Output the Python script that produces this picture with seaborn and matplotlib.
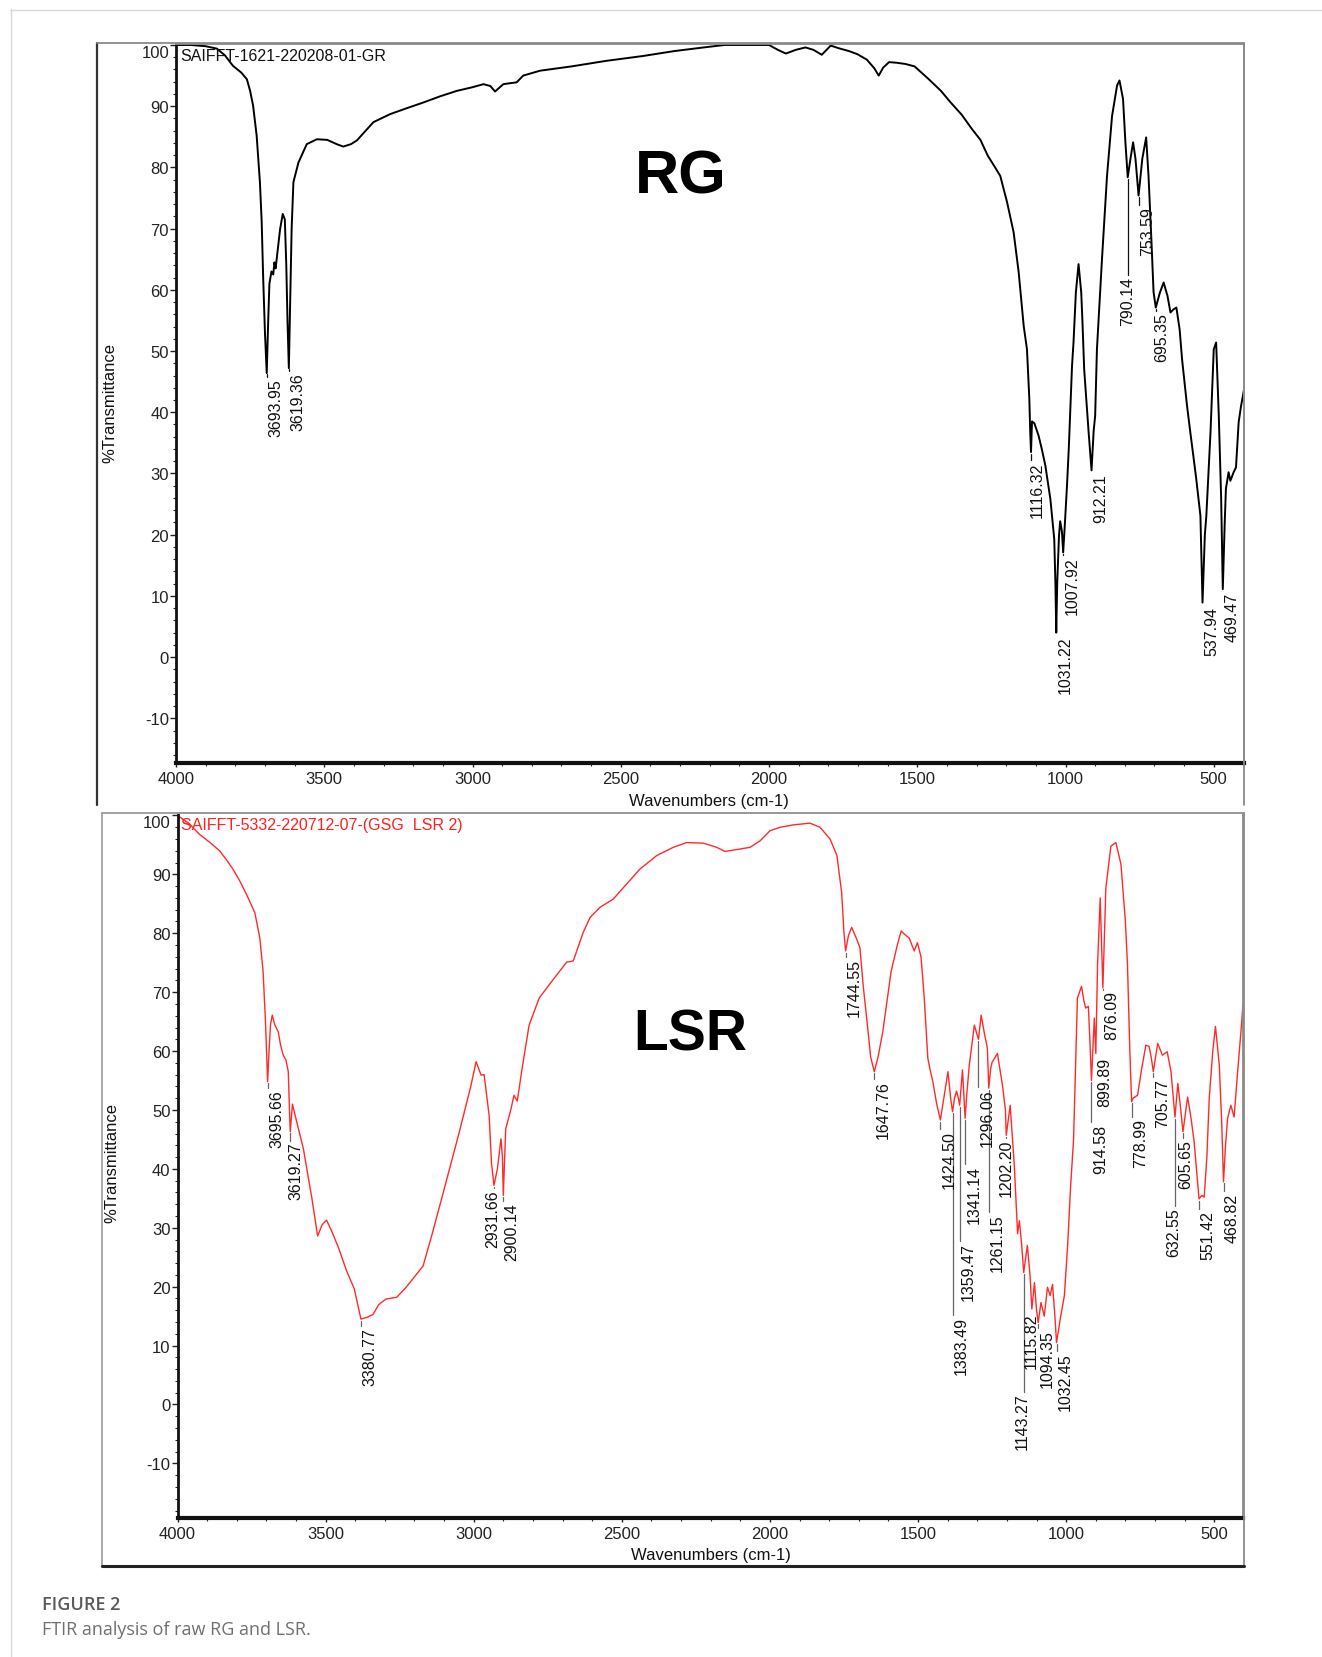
import numpy as np
import pandas as pd
import matplotlib
matplotlib.use("Agg")
import matplotlib.pyplot as plt
from matplotlib.lines import Line2D
from matplotlib.ticker import MultipleLocator
import seaborn as sns

# RG spectrum (wavenumber cm-1, %T)
rg_wn = [4000, 3950, 3900, 3862, 3835, 3808, 3780, 3761, 3750, 3740, 3728, 3717, 3711, 3706, 3700,
         3694, 3689, 3685, 3678, 3672, 3668, 3664, 3658, 3649, 3640, 3633, 3628, 3624, 3619.4, 3615,
         3610, 3604, 3587, 3559, 3525, 3490, 3458, 3436, 3410, 3390, 3360, 3334, 3278, 3220, 3166,
         3110, 3053, 3000, 2963, 2940, 2924, 2910, 2896, 2851, 2829, 2772, 2666, 2550, 2425, 2320,
         2220, 2150, 2050, 2000, 1970, 1943, 1910, 1877, 1850, 1822, 1792, 1760, 1730, 1702, 1670,
         1645, 1630, 1615, 1595, 1570, 1540, 1509, 1461, 1420, 1389, 1350, 1316, 1287, 1262, 1240,
         1220, 1197, 1175, 1158, 1141, 1130, 1122, 1119, 1116.3, 1113, 1105, 1091, 1080, 1068, 1051,
         1038, 1034, 1031.2, 1028, 1022, 1018, 1012, 1007.9, 1003, 995, 989, 978, 973, 965,
         956, 947, 943, 937, 922, 912.2, 905, 900, 894, 885, 877, 860, 843, 826, 818,
         806, 798, 790.1, 781, 772, 764, 753.6, 741, 728, 720, 710, 703, 695.4, 682, 669,
         656, 646, 636, 626, 615, 607, 590, 579, 560, 545, 537.9, 530, 525, 511, 500,
         492, 483, 475, 469.5, 463, 459, 450, 444, 433, 425, 416, 408, 398]
rg_t = [100.0, 100.0, 99.8, 99.4, 98.3, 96.6, 95.5, 94.4, 92.5, 90.1, 85.2, 77.6, 71.1, 62.0, 53.0,
        46.4, 55.0, 61.0, 63.0, 62.5, 64.5, 63.5, 66.0, 69.9, 72.4, 71.5, 64.0, 55.0, 47.2, 58.0,
        70.0, 77.6, 80.8, 83.8, 84.6, 84.5, 83.8, 83.4, 83.8, 84.4, 86.0, 87.4, 88.7, 89.7, 90.6,
        91.6, 92.5, 93.1, 93.6, 93.3, 92.4, 93.0, 93.6, 93.9, 95.0, 95.8, 96.5, 97.4, 98.2, 99.0,
        99.6, 100.0, 100.0, 100.0, 99.2, 98.6, 99.2, 99.6, 99.2, 98.4, 99.9, 99.4, 99.0, 98.5, 97.6,
        96.2, 95.0, 96.3, 97.2, 97.1, 96.9, 96.5, 94.4, 92.5, 90.7, 88.6, 86.3, 84.5, 81.9, 80.2,
        78.6, 74.3, 69.4, 62.9, 54.1, 50.3, 42.2, 36.7, 33.5, 38.5, 38.2, 36.2, 34.0, 31.3, 25.8,
        19.3, 12.0, 4.0, 12.0, 19.8, 22.2, 20.5, 17.1, 21.0, 28.0, 34.0, 47.6, 51.4, 59.6,
        64.2, 59.6, 55.0, 47.0, 36.7, 30.5, 37.0, 39.4, 50.3, 58.0, 65.0, 78.6, 88.4, 93.4, 94.2,
        91.2, 84.1, 78.4, 81.4, 84.1, 81.4, 75.4, 81.4, 84.9, 78.6, 67.8, 59.6, 57.1, 59.5, 61.2,
        59.0, 56.3, 56.8, 57.1, 53.5, 48.7, 41.0, 36.7, 29.5, 23.1, 8.9, 20.0, 23.1, 36.7, 50.3,
        51.4, 39.4, 25.8, 11.1, 22.0, 27.5, 30.2, 28.8, 30.2, 31.0, 38.4, 41.0, 43.7]

# LSR spectrum
lsr_wn = [4000, 3960, 3926, 3890, 3858, 3835, 3813, 3790, 3767, 3739, 3722, 3711, 3703, 3698, 3695.7,
          3691, 3686, 3680, 3672, 3660, 3652, 3643, 3634, 3626, 3622, 3619.3, 3612, 3600, 3575, 3546,
          3527, 3512, 3497, 3480, 3457, 3430, 3403, 3380.8, 3360, 3340, 3320, 3296, 3260, 3230, 3206,
          3171, 3140, 3108, 3050, 3010, 2992, 2975, 2965, 2948, 2940, 2931.7, 2920, 2908, 2903, 2900.1,
          2892, 2875, 2864, 2853, 2835, 2813, 2779, 2731, 2686, 2664, 2630, 2607, 2574, 2529, 2483,
          2439, 2382, 2326, 2281, 2225, 2180, 2152, 2101, 2067, 2033, 2000, 1966, 1921, 1865, 1831,
          1797, 1774, 1758, 1750, 1744.6, 1735, 1724, 1707, 1696, 1685, 1670, 1660, 1647.8, 1635, 1619,
          1591, 1570, 1557, 1545, 1530, 1513, 1502, 1490, 1479, 1467, 1460, 1450, 1437, 1424.5, 1410,
          1399, 1390, 1383.5, 1377, 1370, 1364, 1359.5, 1350, 1345, 1341.1, 1335, 1327, 1310, 1302, 1296.1,
          1287, 1276, 1266, 1261.2, 1255, 1250, 1232, 1215, 1205, 1202.2, 1189, 1175, 1164, 1158, 1150,
          1143.3, 1131, 1122, 1115.8, 1107, 1100, 1094.4, 1085, 1074, 1063, 1054, 1046, 1038, 1032.5, 1020,
          1006, 995, 985, 975, 962, 948, 940, 934, 925, 920, 914.6, 905, 899.9, 894, 885,
          876.1, 866, 849, 832, 815, 800, 793, 785, 779.0, 774, 759, 745, 731, 720, 713,
          705.8, 691, 675, 659, 646, 638, 632.6, 623, 613, 605.7, 590, 578, 568, 560, 551.4,
          542, 534, 525, 517, 505, 496, 483, 475, 468.8, 462, 455, 444, 433, 422, 410, 403]
lsr_t = [100.0, 98.6, 96.8, 95.4, 94.0, 92.5, 90.9, 88.9, 86.6, 83.5, 79.2, 73.5, 65.0, 58.0, 54.8,
         60.0, 64.5, 66.1, 64.5, 63.3, 61.0, 59.3, 58.5, 56.5, 50.0, 46.3, 51.0, 48.5, 43.4, 34.9,
         28.6, 30.5, 31.3, 29.5, 26.7, 22.8, 19.6, 14.5, 14.8, 15.3, 17.0, 17.9, 18.2, 19.8, 21.3,
         23.5, 29.0, 35.0, 46.0, 54.0, 58.2, 55.9, 56.0, 49.1, 41.0, 37.2, 40.0, 45.1, 42.0, 35.5,
         46.8, 50.0, 52.5, 51.5, 57.6, 64.4, 69.0, 72.2, 75.1, 75.3, 80.2, 82.7, 84.4, 85.8, 88.4,
         90.9, 93.2, 94.6, 95.4, 95.3, 94.6, 93.9, 94.3, 94.6, 95.7, 97.4, 98.0, 98.4, 98.7, 98.0,
         96.0, 93.2, 87.0, 80.0, 77.0, 79.6, 81.0, 79.0, 77.5, 71.0, 64.0, 59.0, 56.5, 59.0, 63.3,
         73.5, 78.0, 80.4, 79.8, 79.2, 77.0, 78.4, 76.0, 69.0, 58.8, 57.0, 54.8, 51.0, 48.3, 53.0,
         56.5, 52.0, 49.7, 52.0, 53.2, 52.0, 50.8, 56.8, 52.0, 48.6, 53.0, 57.6, 64.4, 63.0, 62.0,
         66.1, 63.0, 60.5, 53.7, 57.0, 58.1, 59.6, 54.2, 50.0, 45.7, 50.8, 40.6, 29.0, 31.2, 27.0,
         22.4, 27.0, 22.0, 16.2, 20.7, 16.0, 13.9, 17.3, 15.0, 19.9, 18.5, 20.4, 15.0, 10.5, 14.5,
         18.5, 27.0, 37.0, 45.0, 69.0, 71.0, 68.5, 67.3, 67.6, 62.0, 55.0, 65.6, 59.6, 74.7, 86.0,
         70.7, 87.7, 94.8, 95.4, 91.7, 82.0, 74.7, 60.0, 51.4, 52.0, 52.5, 57.0, 61.0, 60.8, 59.0,
         56.5, 61.3, 59.3, 59.9, 56.5, 52.0, 48.8, 54.5, 50.0, 46.3, 52.2, 48.5, 44.6, 40.0, 34.9,
         35.5, 35.2, 42.0, 52.0, 60.0, 64.2, 57.6, 48.0, 37.8, 44.0, 48.6, 50.8, 48.8, 55.9, 63.3, 67.9]

# peak labels and the %T at which each label text starts
rg_peaks = ["3693.95", "3619.36", "1116.32", "1031.22", "1007.92", "912.21",
            "790.14", "753.59", "695.35", "537.94", "469.47"]
rg_label_t = [45.5, 46.5, 32.0, 3.5, 16.5, 30.0, 62.3, 73.7, 56.3, 8.4, 10.6]

lsr_peaks = ["3695.66", "3619.27", "3380.77", "2931.66", "2900.14", "1744.55", "1647.76",
             "1424.50", "1383.49", "1359.47", "1341.14", "1296.06", "1261.15", "1202.20",
             "1143.27", "1115.82", "1094.35", "1032.45", "914.58", "899.89", "876.09",
             "778.99", "705.77", "632.55", "605.65", "551.42", "468.82"]
lsr_label_t = [53.5, 44.6, 13.2, 36.5, 34.3, 75.8, 55.1,
               46.6, 15.0, 27.5, 40.6, 53.7, 32.4, 45.1,
               2.0, 15.6, 12.8, 8.8, 47.7, 59.1, 70.4,
               48.6, 55.4, 33.5, 45.1, 33.0, 36.0]

xticks = [4000, 3500, 3000, 2500, 2000, 1500, 1000, 500]
yticks = list(range(-10, 101, 10))

# labels the software pushed left of their leader line (pixels)
label_nudge = {"2931.66": -10, "1143.27": -10, "1115.82": -9, "1202.20": -9,
               "632.55": -10, "605.65": -6, "3619.27": -3,
               "790.14": -9, "1116.32": -3, "695.35": -3}

W, H = 1322, 1658

sns.set_theme(style="white")
plt.rcParams['font.family'] = ['Liberation Sans', 'DejaVu Sans']
plt.rcParams['axes.unicode_minus'] = False

fig = plt.figure(figsize=(W / 100, H / 100), dpi=100)
fig.patch.set_facecolor("white")


def fx(x):
    return x / W


def fy(y):
    return 1 - y / H


def fig_line(xs, ys, color, lw):
    fig.add_artist(Line2D([fx(v) for v in xs], [fy(v) for v in ys],
                          transform=fig.transFigure, color=color, lw=lw))


def panel(rect, wn, t, color, lw, xlim, ylim, peaks, label_t, lead_color):
    ax = fig.add_axes(rect)
    df = pd.DataFrame({"wavenumber": wn, "T": t})
    sns.lineplot(data=df, x="wavenumber", y="T", ax=ax, color=color, linewidth=lw,
                 estimator=None, sort=False, legend=False)
    ax.set_xlim(*xlim)
    ax.set_ylim(*ylim)
    ax.set_xticks(xticks)
    ax.set_yticks(yticks)
    # the 100 label sits a little below its tick in the original, drawn separately
    ax.set_yticklabels([str(v) if v != 100 else "" for v in yticks])
    ax.annotate("100", xy=(0, 100), xycoords=("axes fraction", "data"),
                xytext=(-5, 0), textcoords="offset points", ha="right", va="top",
                fontsize=12, color="#222222")
    ax.yaxis.set_minor_locator(MultipleLocator(2))
    ax.xaxis.set_minor_locator(MultipleLocator(100))
    ax.tick_params(axis="y", which="major", direction="out", length=4, width=1,
                   labelsize=12, pad=1, left=True, colors="#222222")
    ax.tick_params(axis="y", which="minor", direction="out", length=2, width=0.8, left=True)
    ax.tick_params(axis="x", which="major", direction="out", length=3, width=1,
                   labelsize=12, pad=3, bottom=True, colors="#222222")
    ax.tick_params(axis="x", which="minor", direction="out", length=2, width=0.8, bottom=True)
    ax.set_xlabel("")
    ax.set_ylabel("")
    ax.spines["left"].set_linewidth(2)
    ax.spines["left"].set_color("#111111")
    ax.spines["bottom"].set_linewidth(3)
    ax.spines["bottom"].set_color("#111111")
    for s in ("top", "right"):
        ax.spines[s].set_linewidth(1.3)
        ax.spines[s].set_color("#8a8a8a")

    # peak markers: leader line from the curve down to the label
    asc_w = np.array(wn[::-1], dtype=float)
    asc_t = np.array(t[::-1], dtype=float)
    for lab, lt in zip(peaks, label_t):
        v = float(lab)
        ct = np.interp(v, asc_w, asc_t)
        ax.plot([v, v], [ct - 0.3, lt + 0.2], color=lead_color, lw=0.9)
        shift = label_nudge.get(lab, 0) * 0.72 + 1
        ax.annotate(lab, xy=(v, lt), xytext=(shift, 0), textcoords="offset points",
                    rotation=90, ha="left", va="top", fontsize=11.5, color="#111111")
    return ax


# top panel (RG)
ax1 = panel([fx(176), fy(764), (1244 - 176) / W, (764 - 45) / H],
            rg_wn, rg_t, "black", 1.4, (4000, 398), (-17.3, 100.16),
            rg_peaks, rg_label_t, "#111111")

# bottom panel (LSR)
ax2 = panel([fx(177.5), fy(1519), (1243 - 177.5) / W, (1519 - 814) / H],
            lsr_wn, lsr_t, "#ff2a2a", 1.0, (4000, 403), (-19.27, 100.42),
            lsr_peaks, lsr_label_t, "#666666")

# panel frames
fig_line([97, 97], [44, 806], "#333333", 1.6)
fig_line([97, 1244], [44, 44], "#8a8a8a", 1.3)
fig_line([1244, 1244], [44, 806], "#8a8a8a", 1.3)
fig_line([101.5, 1244], [814, 814], "#9a9a9a", 1.3)
fig_line([101.5, 101.5], [814, 1567], "#9a9a9a", 1.2)
fig_line([1244, 1244], [814, 1567], "#8a8a8a", 1.3)
fig_line([101.5, 1244], [1567, 1567], "#222222", 2.2)

# page border
fig_line([10.5, 10.5], [10, H], "#d8d8d8", 1.0)
fig_line([10, W], [10.5, 10.5], "#d8d8d8", 1.0)

# texts
fig.text(fx(180), fy(56.5), "SAIFFT-1621-220208-01-GR", fontsize=11.5, color="#111111",
         ha="left", va="center")
fig.text(fx(181), fy(826), "SAIFFT-5332-220712-07-(GSG  LSR 2)", fontsize=11.5,
         color="#ff2020", ha="left", va="center")

fig.text(fx(110), fy(403), "%Transmittance", rotation=90, fontsize=12, ha="center",
         va="center", color="#111111")
fig.text(fx(112), fy(1163), "%Transmittance", rotation=90, fontsize=12, ha="center",
         va="center", color="#111111")

fig.text(fx(708.6), fy(801.7), "Wavenumbers (cm-1)", fontsize=12, ha="center",
         va="center", color="#111111")
fig.text(fx(710.7), fy(1555.7), "Wavenumbers (cm-1)", fontsize=12, ha="center",
         va="center", color="#111111")

fig.text(fx(681), fy(178), "RG", fontsize=44, weight="bold", ha="center", va="center",
         family=["Liberation Sans Narrow", "Liberation Sans", "DejaVu Sans"], color="black")
fig.text(fx(690), fy(1036), "LSR", fontsize=41, weight="bold", ha="center", va="center",
         family=["Liberation Sans Narrow", "Liberation Sans", "DejaVu Sans"], color="black")

fig.text(fx(42), fy(1605), "FIGURE 2", fontsize=13, weight="semibold", ha="left",
         va="center", color="#5a5a5a", family=["Open Sans", "DejaVu Sans"])
fig.text(fx(42), fy(1630), "FTIR analysis of raw RG and LSR.", fontsize=13, ha="left",
         va="center", color="#707070", family=["Open Sans", "DejaVu Sans"])

fig.savefig("out.png", dpi=100, facecolor="white")
